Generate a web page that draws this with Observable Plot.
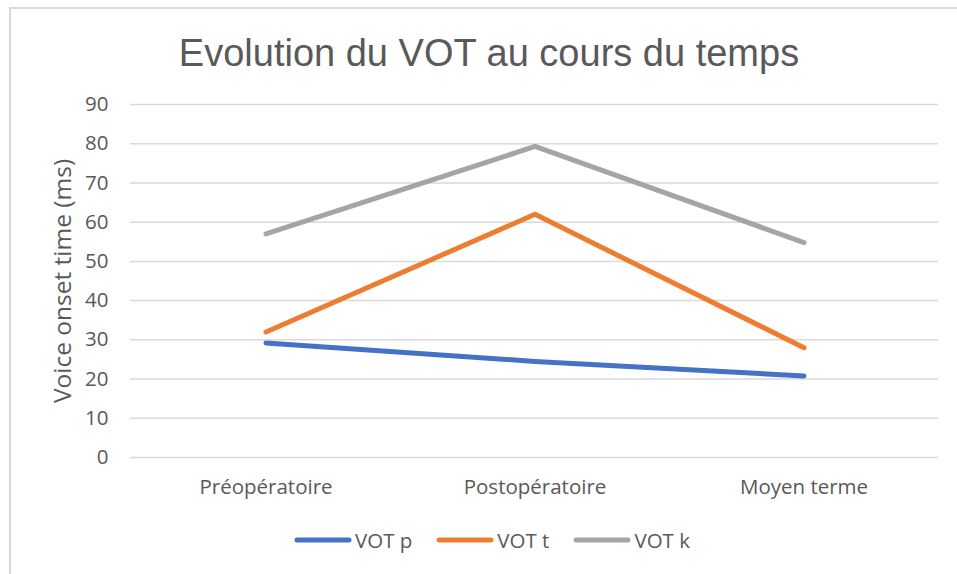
<!DOCTYPE html>
<html>
<head>
<meta charset="utf-8">
<script src="https://cdn.jsdelivr.net/npm/d3@7"></script>
<script src="https://cdn.jsdelivr.net/npm/@observablehq/plot@0.6"></script>
<style>
  html, body { margin: 0; padding: 0; background: #fff; }
  #wrap { position: relative; width: 957px; height: 574px; overflow: hidden; background: #fff; }
  #frame { position: absolute; left: 9px; top: 7px; width: 1000px; height: 700px; border: 2px solid #d9d9d9; box-sizing: border-box; }
  #title { position: absolute; left: 0; top: 32px; width: 978px; text-align: center; font-family: "Liberation Sans", Arial, sans-serif; font-size: 38px; color: #595959; white-space: nowrap; }
  #chart { position: absolute; left: 0; top: 80px; }
  #ylabel { position: absolute; left: 61px; top: 281px; transform: translate(-50%, -50%) rotate(-90deg); font-family: "Open Sans", sans-serif; font-size: 24.5px; color: #595959; white-space: nowrap; }
  #legend { position: absolute; left: 294px; top: 526px; display: flex; align-items: center; font-family: "Open Sans", sans-serif; font-size: 20.5px; color: #595959; }
  .item { display: flex; align-items: center; margin-right: 24px; }
  .item svg { margin-right: 3px; }
</style>
</head>
<body>
<div id="wrap">
  <div id="frame"></div>
  <div id="title"></div>
  <div id="chart"></div>
  <div id="ylabel"></div>
  <div id="legend"></div>
</div>
<script>
const titleText = "Evolution du VOT au cours du temps";
const yLabel = "Voice onset time (ms)";
const categories = ["Préopératoire", "Postopératoire", "Moyen terme"];
const seriesNames = ["VOT p", "VOT t", "VOT k"];
const seriesColors = ["#4472C4", "#ED7D31", "#A5A5A5"];
const votP = [29.2, 24.5, 20.8];
const votT = [32, 62, 28];
const votK = [57, 79.3, 54.8];
const yTicks = [0, 10, 20, 30, 40, 50, 60, 70, 80, 90];

const seriesValues = [votP, votT, votK];
const data = [];
seriesNames.forEach((s, i) => {
  categories.forEach((c, j) => data.push({series: s, category: c, value: seriesValues[i][j]}));
});

document.getElementById("title").textContent = titleText;
document.getElementById("ylabel").textContent = yLabel;

const chart = Plot.plot({
  width: 957,
  height: 430,
  marginTop: 24,
  marginBottom: 53,
  marginLeft: 130,
  marginRight: 19,
  style: { fontFamily: "Open Sans, sans-serif", fontSize: "20.5px", color: "#595959", background: "transparent" },
  x: { type: "band", domain: categories, padding: 0, label: null },
  y: { domain: [0, 90], label: null },
  color: { domain: seriesNames, range: seriesColors },
  marks: [
    Plot.ruleY(yTicks, { stroke: "#d9d9d9", strokeWidth: 1.5 }),
    Plot.axisY({ ticks: yTicks, tickSize: 0, tickPadding: 22, label: null }),
    Plot.axisX({ tickSize: 0, tickPadding: 22, label: null }),
    Plot.line(data, { x: "category", y: "value", z: "series", stroke: "series", strokeWidth: 5, strokeLinecap: "round", strokeLinejoin: "round" })
  ]
});
document.getElementById("chart").appendChild(chart);

const legend = document.getElementById("legend");
seriesNames.forEach((s, i) => {
  const item = document.createElement("div");
  item.className = "item";
  item.innerHTML = `<svg width="58" height="10"><line x1="3" y1="5" x2="55" y2="5" stroke="${seriesColors[i]}" stroke-width="5" stroke-linecap="round"/></svg><span></span>`;
  item.querySelector("span").textContent = s;
  legend.appendChild(item);
});
</script>
</body>
</html>
